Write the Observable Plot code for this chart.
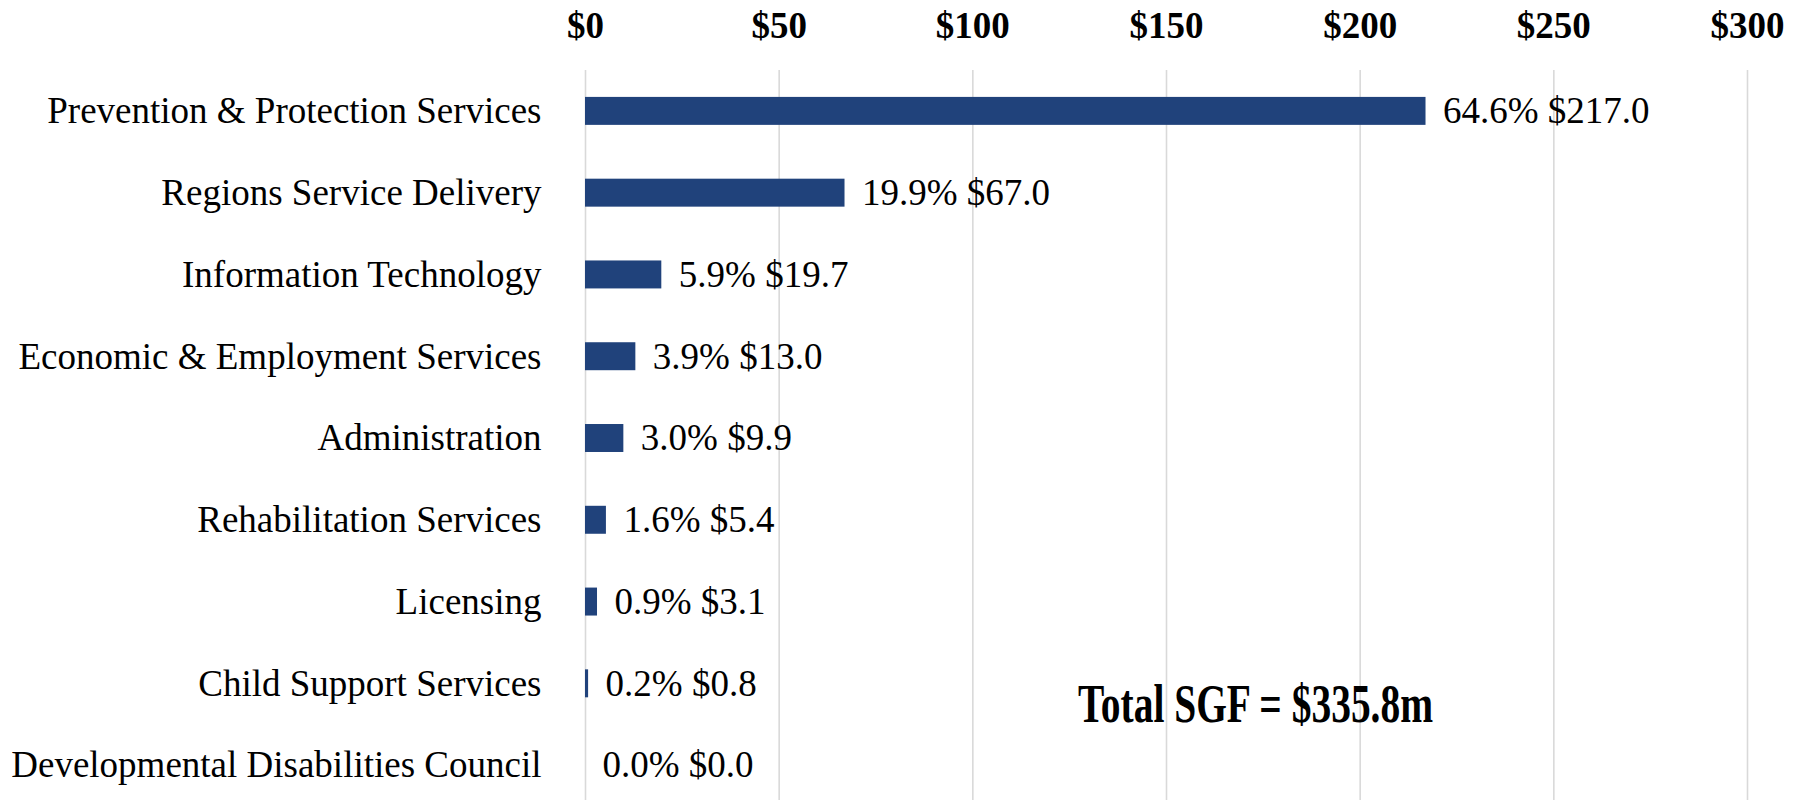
<!DOCTYPE html>
<html><head><meta charset="utf-8">
<script src="https://cdn.jsdelivr.net/npm/d3@7"></script>
<script src="https://cdn.jsdelivr.net/npm/@observablehq/plot@0.6"></script>
<style>body{margin:0;background:#fff}</style>
</head><body><div id="chart"></div>
<script>
const categories = [
  "Prevention & Protection Services",
  "Regions Service Delivery",
  "Information Technology",
  "Economic & Employment Services",
  "Administration",
  "Rehabilitation Services",
  "Licensing",
  "Child Support Services",
  "Developmental Disabilities Council"
];
const amounts = [217.0, 67.0, 19.7, 13.0, 9.9, 5.4, 3.1, 0.8, 0.0];
const shares = [64.6, 19.9, 5.9, 3.9, 3.0, 1.6, 0.9, 0.2, 0.0];
const xTicks = [0, 50, 100, 150, 200, 250, 300];
const totalLabel = ["Total SGF = $335.8m"];

const data = categories.map((c, i) => ({category: c, amount: amounts[i], share: shares[i]}));
const serif = "'Liberation Serif','Times New Roman',serif";

const chart = Plot.plot({
  width: 1801,
  height: 800,
  marginLeft: 585,
  marginRight: 54,
  marginTop: 70,
  marginBottom: -6,
  style: {fontFamily: serif, background: "#fff", color: "#000", overflow: "visible"},
  x: {domain: [0, 300], label: null},
  y: {domain: categories, paddingInner: 0.658, paddingOuter: 0.329, round: false, label: null},
  marks: [
    Plot.gridX(xTicks, {stroke: "#d9d9d9", strokeOpacity: 1, strokeWidth: 1.6}),
    Plot.axisX(xTicks, {anchor: "top", tickSize: 0, tickPadding: 33, tickFormat: d => "$" + d,
      fontSize: 37, fontWeight: "bold", fill: "#000", label: null}),
    Plot.axisY({tickSize: 0, tickPadding: 44, fontSize: 37, fill: "#000", label: null}),
    Plot.barX(data, {x: "amount", y: "category", fill: "#20427b"}),
    Plot.text(data, {x: "amount", y: "category", text: d => `${d.share.toFixed(1)}% $${d.amount.toFixed(1)}`,
      textAnchor: "start", dx: 17, fontSize: 37, fill: "#000"}),
    Plot.text(totalLabel, {x: () => 173, y: () => categories[7], dy: 21, text: d => d,
      fontSize: 54, fontWeight: "bold", fill: "#000", textAnchor: "middle", className: "total-label"})
  ]
});
document.getElementById("chart").appendChild(chart);

// white box behind the total annotation, and condensed text like the original
const t = chart.querySelector(".total-label text");
if (t) {
  t.setAttribute("textLength", 355);
  t.setAttribute("lengthAdjust", "spacingAndGlyphs");
  const b = t.getBBox();
  const cx = b.x + b.width / 2, cy = b.y + b.height / 2;
  const r = document.createElementNS("http://www.w3.org/2000/svg", "rect");
  r.setAttribute("x", cx - 262); r.setAttribute("width", 524);
  r.setAttribute("y", cy - 34); r.setAttribute("height", 68);
  r.setAttribute("fill", "#fff");
  const g = t.closest("g.total-label") || t.parentNode;
  g.insertBefore(r, g.firstChild);
}
</script>
</body></html>
